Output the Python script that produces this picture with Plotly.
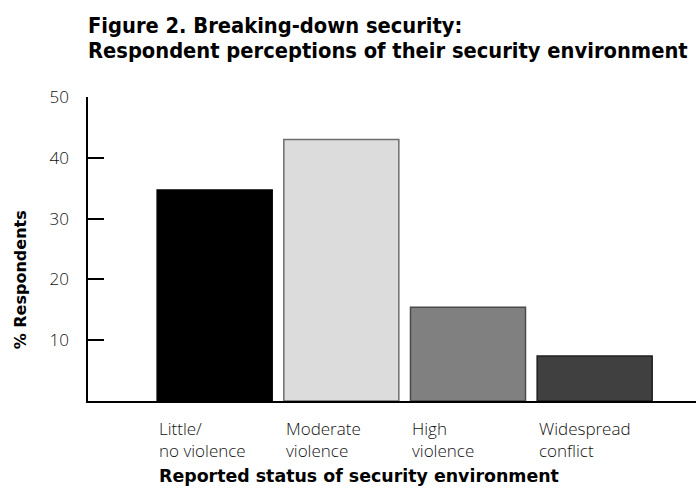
import plotly.graph_objects as go

categories = ["Little/<br>no violence", "Moderate<br>violence", "High<br>violence", "Widespread<br>conflict"]
values = [34.7, 43.0, 15.4, 7.4]
fill_colors = ["#000000", "#dcdcdc", "#808080", "#404040"]
line_colors = ["#000000", "#6e6e6e", "#4a4a4a", "#1f1f1f"]
y_ticks = [10, 20, 30, 40, 50]
title_lines = ["Figure 2. Breaking-down security:",
               "Respondent perceptions of their security environment"]
x_title = "Reported status of security environment"
y_title = "% Respondents"

LIGHT = "Open Sans"
BOLD = "DejaVu Sans"
TITLE_FONT = "DejaVu Sans Condensed"

xpos = list(range(len(categories)))
fig = go.Figure(go.Bar(
    x=xpos, y=values,
    marker=dict(color=fill_colors, line=dict(color=line_colors, width=1.5)),
    width=0.908,
    hoverinfo="skip",
))

fig.update_layout(
    width=696, height=495,
    margin=dict(l=88, r=0, t=97, b=94),
    paper_bgcolor="white", plot_bgcolor="white",
    showlegend=False,
    xaxis=dict(range=[-1.0, 3.8], showticklabels=False, ticks="", showgrid=False,
               zeroline=False, showline=True, linecolor="#000000", linewidth=1.5),
    yaxis=dict(range=[0, 50], tickvals=y_ticks, ticks="inside", ticklen=16,
               tickwidth=1.5, tickcolor="#000000", showgrid=False, zeroline=False,
               showline=True, linecolor="#000000", linewidth=1.5,
               ticklabelstandoff=14,
               tickfont=dict(family=LIGHT, size=17, color="#111111", weight=300)),
)

anns = []
for i, c in enumerate(categories):
    anns.append(dict(x=i - 0.454, y=0, xref="x", yref="paper", text=c,
                     xanchor="left", yanchor="top", align="left", showarrow=False,
                     yshift=-14,
                     font=dict(family=LIGHT, size=17, color="#111111", weight=300)))
anns.append(dict(x=-0.454, y=0, xref="x", yref="paper", text=x_title,
                 xanchor="left", yanchor="top", showarrow=False, yshift=-63,
                 font=dict(family=BOLD, size=17.4, color="#000000", weight="bold")))
anns.append(dict(x=0, y=0.397, xref="paper", yref="paper", text=y_title,
                 textangle=-90, xanchor="center", yanchor="middle", showarrow=False,
                 xshift=-68,
                 font=dict(family=BOLD, size=16, color="#000000", weight="bold")))
for k, t in enumerate(title_lines):
    anns.append(dict(x=0, y=1, xref="paper", yref="paper", text=t,
                     xanchor="left", yanchor="top", showarrow=False,
                     xshift=-2, yshift=[86, 61][k],
                     font=dict(family=TITLE_FONT, size=21.7, color="#000000", weight="bold")))
fig.update_layout(annotations=anns)

fig.write_html("out.html")
